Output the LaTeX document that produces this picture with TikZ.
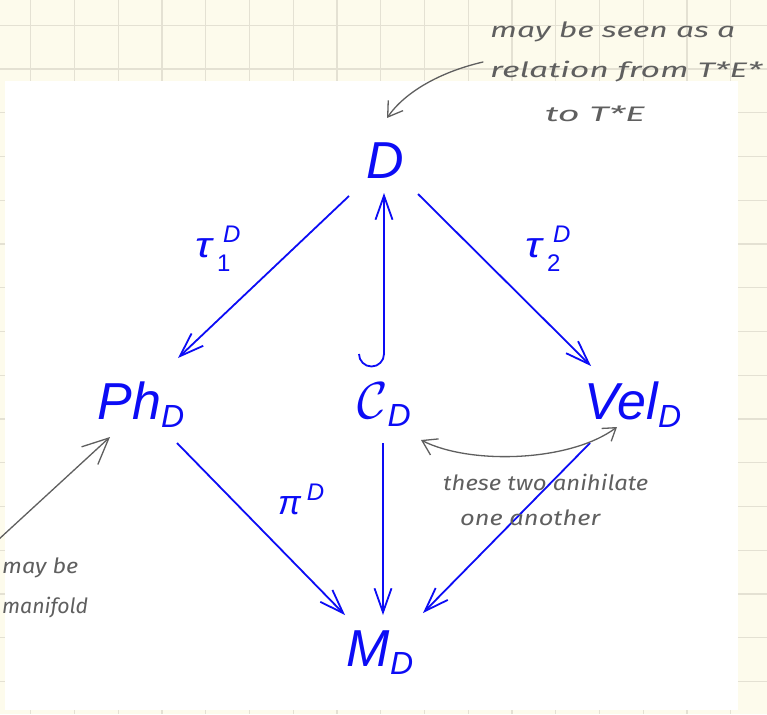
\documentclass[tikz,border=0pt]{standalone}
\usepackage{fontspec}
\setmainfont{Liberation Sans}
\newfontfamily\hand{Fira Sans}
\usetikzlibrary{arrows.meta,calc}
\definecolor{paper}{RGB}{253,251,236}
\definecolor{gridc}{RGB}{228,225,211}
\definecolor{ink}{RGB}{12,12,245}
\definecolor{pen}{RGB}{95,95,95}
\newcommand{\bigit}[1]{{\fontsize{52}{52}\selectfont\itshape #1}}
\newcommand{\subd}[1]{\raisebox{-8pt}{\fontsize{32}{32}\selectfont\itshape #1}}
\newcommand{\lbs}[1]{{\fontsize{34}{34}\selectfont\itshape #1}}
\newcommand{\sml}[1]{{\fontsize{24}{24}\selectfont #1}}
\newcommand{\hw}[2]{\resizebox{#1pt}{\height}{\fontsize{21}{21}\selectfont\hand\itshape #2}}
\newcommand{\taulab}[1]{\rlap{\scalebox{1.3}[1.05]{\lbs{τ}}}\rlap{\hspace{22pt}\raisebox{-14pt}{\sml{#1}}}\hspace{28pt}\raisebox{15pt}{\sml{\itshape D}}}
\tikzset{
  obj/.style={text=ink, inner sep=0pt},
  lab/.style={text=ink, inner sep=0pt, anchor=base west},
  arr/.style={draw=ink, line width=1.8pt, -{Straight Barb[length=24pt,width=17pt,line width=1.8pt]}},
  note/.style={text=pen, inner sep=0pt, anchor=base west},
  penarr/.style={draw=pen, line width=1.3pt, line cap=round, -{Straight Barb[length=14pt,width=18pt,line width=1.3pt]}},
  pendbl/.style={draw=pen, line width=1.3pt, line cap=round, {Straight Barb[length=14pt,width=18pt,line width=1.3pt]}-{Straight Barb[length=12pt,width=16pt,line width=1.3pt]}},
}
\begin{document}
\begin{tikzpicture}[x=1pt,y=-1pt]
\useasboundingbox (0,0) rectangle (767,714);
% paper and grid
\fill[paper] (0,0) rectangle (767,714);
\foreach \i in {0,...,16} \draw[gridc,line width=1.2pt] ({30.7+43.75*\i},0) -- ({30.7+43.75*\i},714);
\foreach \i in {0,...,15} \draw[gridc,line width=1.2pt] (0,{25.3+43.75*\i}) -- (767,{25.3+43.75*\i});
\fill[white] (5,81) rectangle (738,710);
% objects
\node[obj] (D) at (385,161) {\bigit{D}};
\node[obj] (Ph) at (141,405) {\bigit{Ph}\subd{D}};
\node[obj] (C) at (384,405) {\scalebox{5.2}{$\mathcal{C}$}\subd{D}};
\node[obj] (Vel) at (633,405) {\bigit{Vel}\subd{D}};
\node[obj] (M) at (380,653) {\bigit{M}\subd{D}};
% labels
\node[lab] (t1) at (195,257) {\taulab{1}};
\node[lab] (t2) at (525,257) {\taulab{2}};
\node[lab] (pi) at (278,514) {\lbs{π}\kern6pt\raisebox{14pt}{\sml{\itshape D}}};
% arrows
\draw[arr] ($(D)+(-36,35)$) -- ($(Ph)+(37,-47)$);
\draw[arr] ($(D)+(33,33)$) -- ($(Vel)+(-42,-39)$);
\draw[arr] ($(C)+(-25,-51)$) arc[start angle=180,end angle=0,radius=12.5] -- ($(D)+(-1,32)$);
\draw[arr] ($(Ph)+(36,38)$) -- ($(M)+(-35,-38)$);
\draw[arr] ($(C)+(-1,38)$) -- ($(M)+(3,-38)$);
\draw[arr] ($(Vel)+(-43,38)$) -- ($(M)+(43,-40)$);
% handwritten notes
\node[note] (n1) at (490,38) {\hw{245}{may be seen as a}};
\node[note] (n2) at (490,78) {\hw{272}{relation from T*E*}};
\node[note] (n3) at (545,122) {\hw{100}{to T*E}};
\node[note] (n4) at (443,490) {\hw{205}{these two anihilate}};
\node[note] (n5) at (460,525) {\hw{140}{one another}};
\node[note] (n6) at (2,573) {\hw{76}{may be}};
\node[note] (n7) at (2,613) {\hw{86}{manifold}};
\coordinate (a1s) at (483,62);
\coordinate (a1e) at (387,118);
\draw[penarr] (a1s) .. controls (440,72) and (405,92) .. (a1e);
\coordinate (a2s) at (-2,540);
\coordinate (a2e) at (110,437);
\draw[penarr,-{Straight Barb[length=26pt,width=24pt,line width=1.3pt]}] (a2s) -- (a2e);
\coordinate (a3s) at (421,440);
\coordinate (a3e) at (617,427);
\draw[pendbl] (a3s) .. controls (470,465) and (570,462) .. (a3e);
\end{tikzpicture}
\end{document}
